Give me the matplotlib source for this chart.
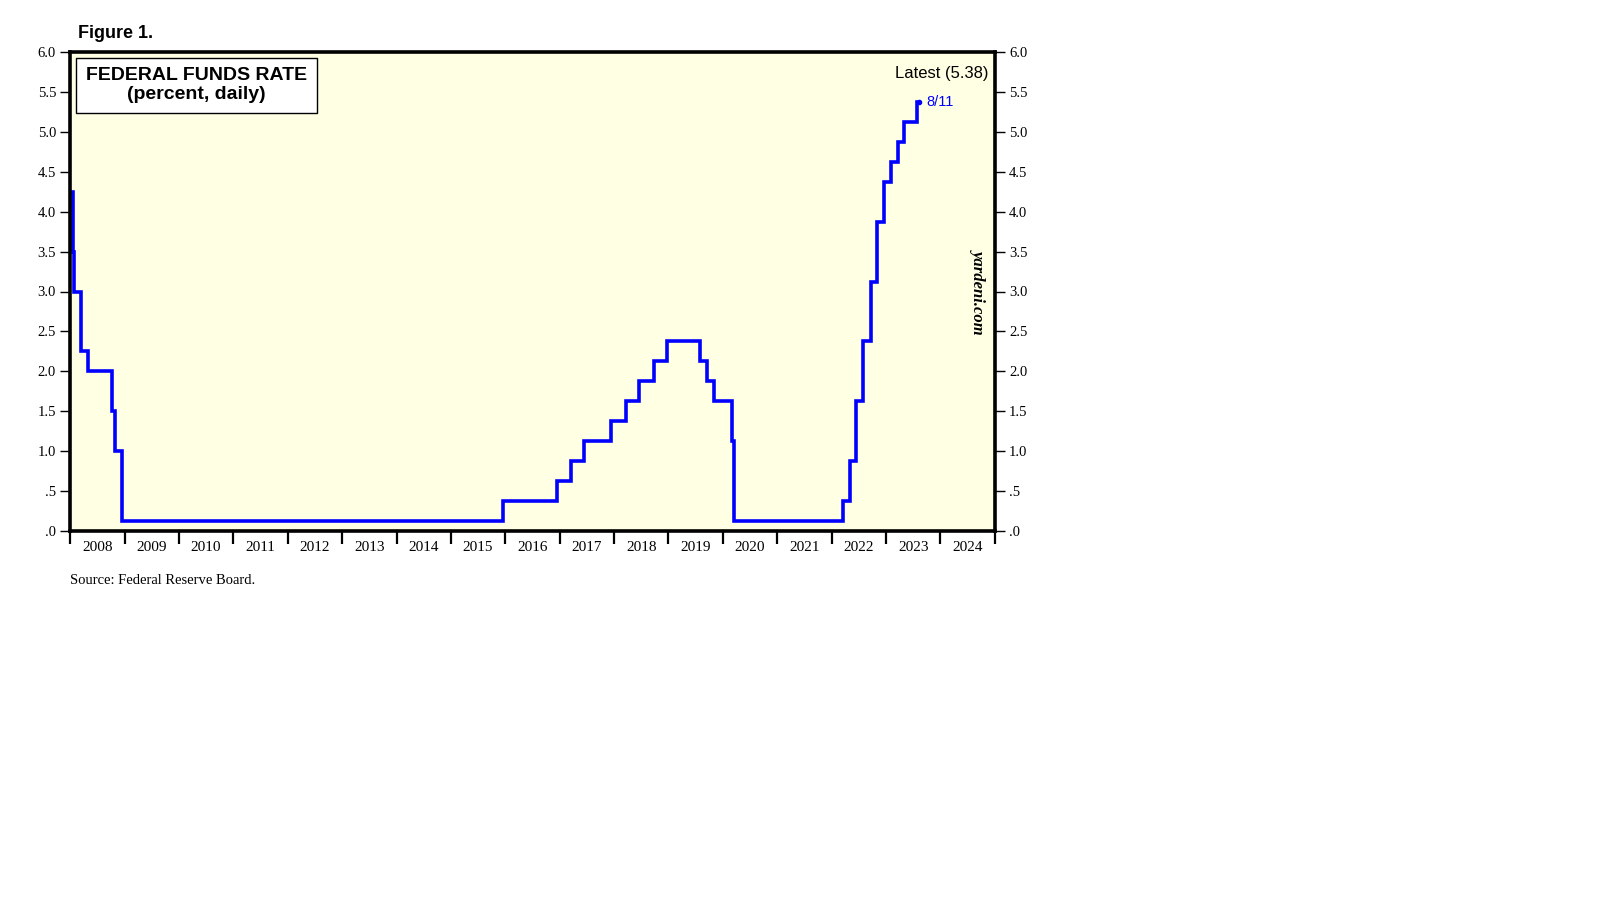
import matplotlib
matplotlib.use("Agg")
import matplotlib.pyplot as plt
import pandas as pd

# fed funds target (midpoint of range), effective dates of changes
change_dates = ["2008-01-01", "2008-01-22", "2008-01-30", "2008-03-18", "2008-04-30",
                "2008-10-08", "2008-10-29", "2008-12-16", "2015-12-17", "2016-12-15",
                "2017-03-16", "2017-06-15", "2017-12-14", "2018-03-22", "2018-06-14",
                "2018-09-27", "2018-12-20", "2019-08-01", "2019-09-19", "2019-10-31",
                "2020-03-04", "2020-03-16", "2022-03-17", "2022-05-05", "2022-06-16",
                "2022-07-28", "2022-09-22", "2022-11-03", "2022-12-15", "2023-02-02",
                "2023-03-23", "2023-05-04", "2023-07-27", "2023-08-11"]
rates = [4.25, 3.50, 3.00, 2.25, 2.00,
         1.50, 1.00, 0.125, 0.375, 0.625,
         0.875, 1.125, 1.375, 1.625, 1.875,
         2.125, 2.375, 2.125, 1.875, 1.625,
         1.125, 0.125, 0.375, 0.875, 1.625,
         2.375, 3.125, 3.875, 4.375, 4.625,
         4.875, 5.125, 5.375, 5.375]
years = list(range(2008, 2025))
ytick_vals = [0, 0.5, 1, 1.5, 2, 2.5, 3, 3.5, 4, 4.5, 5, 5.5, 6]
ytick_labels = [".0", ".5", "1.0", "1.5", "2.0", "2.5", "3.0", "3.5", "4.0", "4.5", "5.0", "5.5", "6.0"]

dates = pd.to_datetime(change_dates)
serif = "Liberation Serif"
sans = "Liberation Sans"

fig = plt.figure(figsize=(16.1, 9.1), dpi=100)
ax = fig.add_axes([70 / 1610, 1 - 531 / 910, 925 / 1610, 479 / 910])
ax.set_facecolor("#ffffe4")

ax.plot(dates, rates, drawstyle="steps-post", color="#0000ff", lw=2.6, solid_joinstyle="miter")
ax.plot(dates[-1], rates[-1], "o", color="#0000ff", ms=3)

ax.set_xlim(pd.Timestamp("2008-01-01"), pd.Timestamp("2025-01-01"))
ax.set_ylim(0, 6)

# year boundaries as ticks, labels centred in each year
ax.set_xticks([pd.Timestamp(f"{y}-01-01") for y in years + [2025]])
ax.set_xticklabels([])
ax.set_xticks([pd.Timestamp(f"{y}-07-02") for y in years], minor=True)
ax.set_xticklabels([str(y) for y in years], minor=True, fontfamily=serif, fontsize=11)
ax.tick_params(axis="x", which="major", direction="out", length=9, width=1.6, color="black")
ax.tick_params(axis="x", which="minor", length=0, pad=7)

ax.set_yticks(ytick_vals)
ax.set_yticklabels(ytick_labels, fontfamily=serif, fontsize=10.5)
ax.tick_params(axis="y", which="both", direction="out", length=7, width=1,
               left=True, right=True, labelleft=True, labelright=True, pad=3)
for lbl in ax.get_yticklabels(which="both"):
    lbl.set_fontfamily(serif)

for s in ax.spines.values():
    s.set_linewidth(2.6)

ax.text(0.017, 0.968, "FEDERAL FUNDS RATE\n(percent, daily)", transform=ax.transAxes,
        ha="left", va="top", fontfamily=sans, fontweight="bold", fontsize=14,
        linespacing=1.12, multialignment="center",
        bbox=dict(boxstyle="square,pad=0.5", fc="white", ec="black", lw=1))

ax.text(0.993, 0.955, "Latest (5.38)", transform=ax.transAxes, ha="right", va="center",
        fontfamily=sans, fontsize=12)
ax.annotate("8/11", (dates[-1], rates[-1]), xytext=(5, 0), textcoords="offset points",
            ha="left", va="center", color="#0000ff", fontfamily=sans, fontsize=10.5)
ax.text(0.982, 0.50, "yardeni.com", transform=ax.transAxes, rotation=-90, ha="center",
        va="center", fontfamily=serif, fontstyle="italic", fontweight="bold", fontsize=12)

fig.text(78 / 1610, 1 - 33 / 910, "Figure 1.", ha="left", va="center",
         fontfamily=sans, fontweight="bold", fontsize=13)
fig.text(70 / 1610, 1 - 580 / 910, "Source: Federal Reserve Board.", ha="left", va="center",
         fontfamily=serif, fontsize=10.5)

fig.savefig("out.png", dpi=100, facecolor="white")
